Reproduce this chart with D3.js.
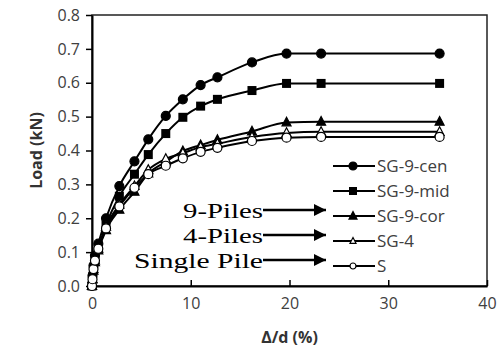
<!DOCTYPE html>
<html>
<head>
<meta charset="utf-8">
<script src="https://cdn.jsdelivr.net/npm/d3@7"></script>
<style>
  body { margin: 0; background: #fff; }
  svg { display: block; }
</style>
</head>
<body>
<svg id="chart" width="504" height="348"></svg>
<script>
// displacement ratio, shared by all series
const xValues = [0, 0.05, 0.15, 0.3, 0.64, 1.42, 2.77, 4.3, 5.7, 7.47, 9.2, 11.0, 12.7, 16.2, 19.7, 23.2, 35.2]

const seriesNames = ["SG-9-cen", "SG-9-mid", "SG-9-cor", "SG-4", "S"]
const markerKinds = ["circle", "square", "triangle", "triangle-open", "circle-open"]

const sg9cen = [0, 0.03, 0.06, 0.09, 0.125, 0.2, 0.295, 0.368, 0.433, 0.502, 0.551, 0.593, 0.616, 0.66, 0.686, 0.686, 0.686]
const sg9mid = [0, 0.025, 0.05, 0.08, 0.11, 0.18, 0.265, 0.33, 0.388, 0.45, 0.498, 0.531, 0.551, 0.577, 0.598, 0.598, 0.598]
const sg9cor = [0, 0.02, 0.045, 0.07, 0.105, 0.165, 0.225, 0.278, 0.332, 0.367, 0.398, 0.416, 0.431, 0.456, 0.483, 0.485, 0.485]
const sg4 = [0, 0.02, 0.05, 0.075, 0.11, 0.175, 0.24, 0.295, 0.343, 0.375, 0.392, 0.41, 0.42, 0.44, 0.452, 0.455, 0.455]
const single = [0, 0.02, 0.05, 0.075, 0.11, 0.17, 0.235, 0.29, 0.33, 0.355, 0.377, 0.396, 0.408, 0.428, 0.438, 0.44, 0.44]

const seriesValues = [sg9cen, sg9mid, sg9cor, sg4, single]

const xTicks = [0, 10, 20, 30, 40]
const yTicks = [0, 0.1, 0.2, 0.3, 0.4, 0.5, 0.6, 0.7, 0.8]

// annotation labels, their printed widths and the legend row each arrow points to
const noteLabels = ["9-Piles", "4-Piles", "Single Pile"]
const noteWidths = [80, 80, 129]
const noteRows = [2, 3, 4]

const width = 504
const height = 348
const margin = {top: 15, right: 17, bottom: 62, left: 92}

const svg = d3.select("#chart")

const x = d3.scaleLinear().domain([0, 40]).range([margin.left, width - margin.right])
const y = d3.scaleLinear().domain([0, 0.8]).range([height - margin.bottom, margin.top])

const tickColor = "#404040"
const tickFont = "'Open Sans', sans-serif"

// plot frame
svg.append("rect")
    .attr("x", x(0))
    .attr("y", y(0.8))
    .attr("width", x(40) - x(0))
    .attr("height", y(0) - y(0.8))
    .attr("fill", "none")
    .attr("stroke", "#222")
    .attr("stroke-width", 1.5)

// y axis
const yAxis = svg.append("g")
    .attr("transform", `translate(${x(0)},0)`)
    .call(d3.axisLeft(y).tickValues(yTicks).tickFormat(d3.format(".1f")).tickSize(6).tickSizeOuter(0))
yAxis.select(".domain").attr("stroke", "#000").attr("stroke-width", 2)
yAxis.selectAll(".tick line").attr("stroke", "#000").attr("stroke-width", 1.5)
yAxis.selectAll(".tick text")
    .attr("x", -12)
    .attr("fill", tickColor)
    .style("font-family", tickFont)
    .style("font-size", "16px")

// x axis, ticks point into the plot
const xAxis = svg.append("g")
    .attr("transform", `translate(0,${y(0)})`)
    .call(d3.axisBottom(x).tickValues(xTicks).tickSizeInner(-6).tickSizeOuter(0))
xAxis.select(".domain").attr("stroke", "#000").attr("stroke-width", 2)
xAxis.selectAll(".tick line").attr("stroke", "#000").attr("stroke-width", 1.5)
xAxis.selectAll(".tick text")
    .attr("y", 12)
    .attr("fill", tickColor)
    .style("font-family", tickFont)
    .style("font-size", "16px")

// axis titles
svg.append("text")
    .attr("transform", `translate(42,${(y(0) + y(0.8)) / 2}) rotate(-90)`)
    .attr("text-anchor", "middle")
    .attr("fill", "#333")
    .style("font-family", tickFont)
    .style("font-weight", "bold")
    .style("font-size", "16px")
    .text("Load (kN)")

svg.append("text")
    .attr("x", (x(0) + x(40)) / 2)
    .attr("y", 343)
    .attr("text-anchor", "middle")
    .attr("fill", "#333")
    .style("font-family", tickFont)
    .style("font-weight", "bold")
    .style("font-size", "16px")
    .text("Δ/d (%)")

const drawMarker = (g, kind, size) => {
    const filled = !kind.endsWith("open")
    const fill = filled ? "#000" : "#fff"
    if (kind.startsWith("circle")) {
        g.append("circle").attr("r", size / 2)
            .attr("fill", fill).attr("stroke", "#000").attr("stroke-width", 1.2)
    } else if (kind === "square") {
        g.append("rect").attr("x", -size / 2).attr("y", -size / 2)
            .attr("width", size).attr("height", size)
            .attr("fill", fill)
    } else {
        const h = size * 0.95
        g.append("path")
            .attr("d", `M0,${-h * 0.6}L${size / 2},${h * 0.4}L${-size / 2},${h * 0.4}Z`)
            .attr("fill", fill).attr("stroke", "#000").attr("stroke-width", 1.2)
    }
}

const line = d3.line()
    .x(d => x(d[0]))
    .y(d => y(d[1]))
    .curve(d3.curveMonotoneX)

seriesValues.forEach((vals, i) => {
    const pts = xValues.map((xv, j) => [xv, vals[j]])
    const g = svg.append("g")

    g.append("path")
        .datum(pts)
        .attr("d", line)
        .attr("fill", "none")
        .attr("stroke", "#000")
        .attr("stroke-width", 2)

    pts.forEach(p => {
        const m = g.append("g").attr("transform", `translate(${x(p[0])},${y(p[1])})`)
        drawMarker(m, markerKinds[i], 9)
    })
})

// legend
const legendX = 333
const legendY = 166
const legendStep = 25

const legend = svg.append("g")
seriesNames.forEach((name, i) => {
    const row = legend.append("g").attr("transform", `translate(${legendX},${legendY + i * legendStep})`)
    row.append("line")
        .attr("x1", 0).attr("x2", 42)
        .attr("stroke", "#000").attr("stroke-width", 2)
    const m = row.append("g").attr("transform", "translate(20,0)")
    drawMarker(m, markerKinds[i], i < 3 ? 8 : 6)
    row.append("text")
        .attr("x", 44)
        .attr("dy", "0.35em")
        .attr("fill", tickColor)
        .style("font-family", tickFont)
        .style("font-size", "17px")
        .text(name)
})

// annotations with arrows
svg.append("defs").append("marker")
    .attr("id", "head")
    .attr("viewBox", "0 0 10 10")
    .attr("refX", 10).attr("refY", 5)
    .attr("markerWidth", 14).attr("markerHeight", 12)
    .attr("markerUnits", "userSpaceOnUse")
    .attr("orient", "auto")
    .append("path")
    .attr("d", "M0,0L10,5L0,10Z")
    .attr("fill", "#000")

noteLabels.forEach((label, i) => {
    const rowY = legendY + noteRows[i] * legendStep - 6
    svg.append("line")
        .attr("x1", 263).attr("x2", 326)
        .attr("y1", rowY).attr("y2", rowY)
        .attr("stroke", "#000")
        .attr("stroke-width", 2.5)
        .attr("marker-end", "url(#head)")
    svg.append("text")
        .attr("x", 263 - noteWidths[i])
        .attr("y", rowY + 8)
        .attr("textLength", noteWidths[i])
        .attr("lengthAdjust", "spacingAndGlyphs")
        .attr("fill", "#000")
        .style("font-family", "'Liberation Serif', 'Times New Roman', serif")
        .style("font-size", "22px")
        .text(label)
})
</script>
</body>
</html>
